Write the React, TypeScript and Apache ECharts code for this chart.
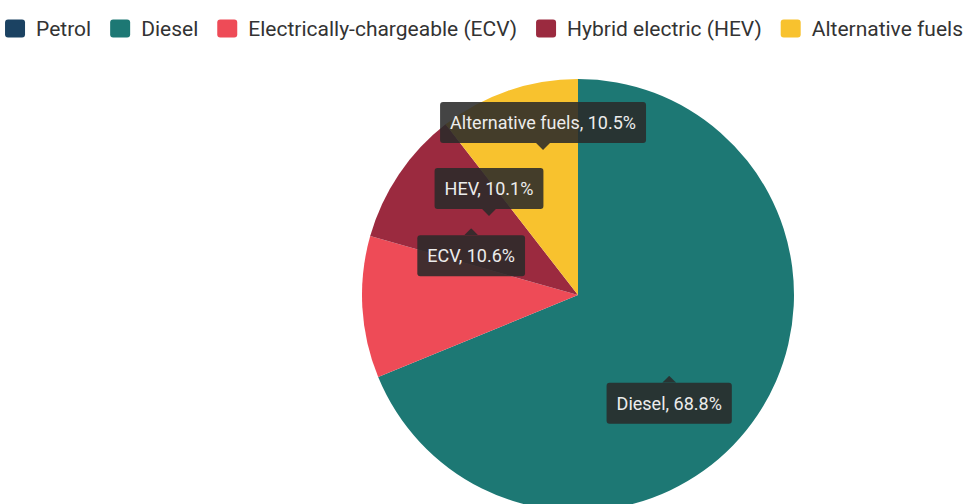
import React, { useEffect, useRef } from "react";
import * as echarts from "echarts";

const legendNames = [
  "Petrol",
  "Diesel",
  "Electrically-chargeable (ECV)",
  "Hybrid electric (HEV)",
  "Alternative fuels",
];
const shortNames = ["Petrol", "Diesel", "ECV", "HEV", "Alternative fuels"];
const shares = [0, 68.8, 10.6, 10.1, 10.5];
const colors = ["#1b4262", "#1d7874", "#ee4b57", "#9b2a3f", "#f8c22e"];

// nudges of the callout boxes (layout only)
const labelShiftX = [0, -1, 4, 3, 1];
const labelShiftY = [0, 43, -49, -41, -64];

const boxFill = "rgba(42,42,42,0.88)";
const triDown =
  "data:image/svg+xml;charset=utf-8," +
  encodeURIComponent(
    `<svg xmlns='http://www.w3.org/2000/svg' width='14' height='7' viewBox='0 0 14 7'><polygon points='0,0 14,0 7,7' fill='${boxFill}'/></svg>`
  );
const triUp =
  "data:image/svg+xml;charset=utf-8," +
  encodeURIComponent(
    `<svg xmlns='http://www.w3.org/2000/svg' width='14' height='7' viewBox='0 0 14 7'><polygon points='0,7 14,7 7,0' fill='${boxFill}'/></svg>`
  );

export default function App() {
  const ref = useRef<HTMLDivElement>(null);

  useEffect(() => {
    document.body.style.margin = "0";
    if (!ref.current) return;
    const chart = echarts.init(ref.current, undefined, { renderer: "svg" });

    const total = shares.reduce((a, b) => a + b, 0);
    let cum = 0;
    const pointsUp: boolean[] = shares.map((v) => {
      const mid = ((cum + v / 2) / total) * Math.PI * 2;
      cum += v;
      return Math.cos(mid) < 0;
    });

    const data = legendNames.map((name, i) => ({
      name,
      value: shares[i],
      itemStyle: { color: colors[i] },
      label: {
        show: shares[i] > 0,
        offset: [labelShiftX[i], labelShiftY[i]],
      },
    }));

    chart.setOption({
      animation: false,
      legend: {
        data: legendNames,
        top: 18,
        left: "center",
        padding: 0,
        icon: "path://M3,0H17Q20,0,20,3V15Q20,18,17,18H3Q0,18,0,15V3Q0,0,3,0Z",
        itemWidth: 20,
        itemHeight: 18,
        itemGap: 19,
        selectedMode: false,
        textStyle: {
          fontFamily: "Roboto",
          fontSize: 21,
          color: "#333",
          padding: [0, 0, 0, 6],
        },
      },
      series: [
        {
          type: "pie",
          center: [578, 295],
          radius: 216,
          startAngle: 90,
          clockwise: true,
          avoidLabelOverlap: false,
          silent: true,
          data,
          labelLine: { show: false },
          label: {
            position: "inside",
            formatter: (p: any) => {
              const text = `${shortNames[p.dataIndex]}, ${Number(p.value).toFixed(1)}%`;
              return pointsUp[p.dataIndex]
                ? `{up| }\n{box|${text}}`
                : `{box|${text}}\n{dn| }`;
            },
            rich: {
              box: {
                fontFamily: "Roboto",
                fontSize: 18,
                height: 21,
                color: "#ececec",
                backgroundColor: boxFill,
                borderRadius: 3,
                padding: [10, 10, 10, 10],
              },
              dn: {
                fontSize: 1,
                width: 14,
                height: 7,
                backgroundColor: { image: triDown },
              },
              up: {
                fontSize: 1,
                width: 14,
                height: 7,
                backgroundColor: { image: triUp },
              },
            },
          },
        },
      ],
    });

    return () => chart.dispose();
  }, []);

  return <div ref={ref} style={{ width: 968, height: 504 }} />;
}
